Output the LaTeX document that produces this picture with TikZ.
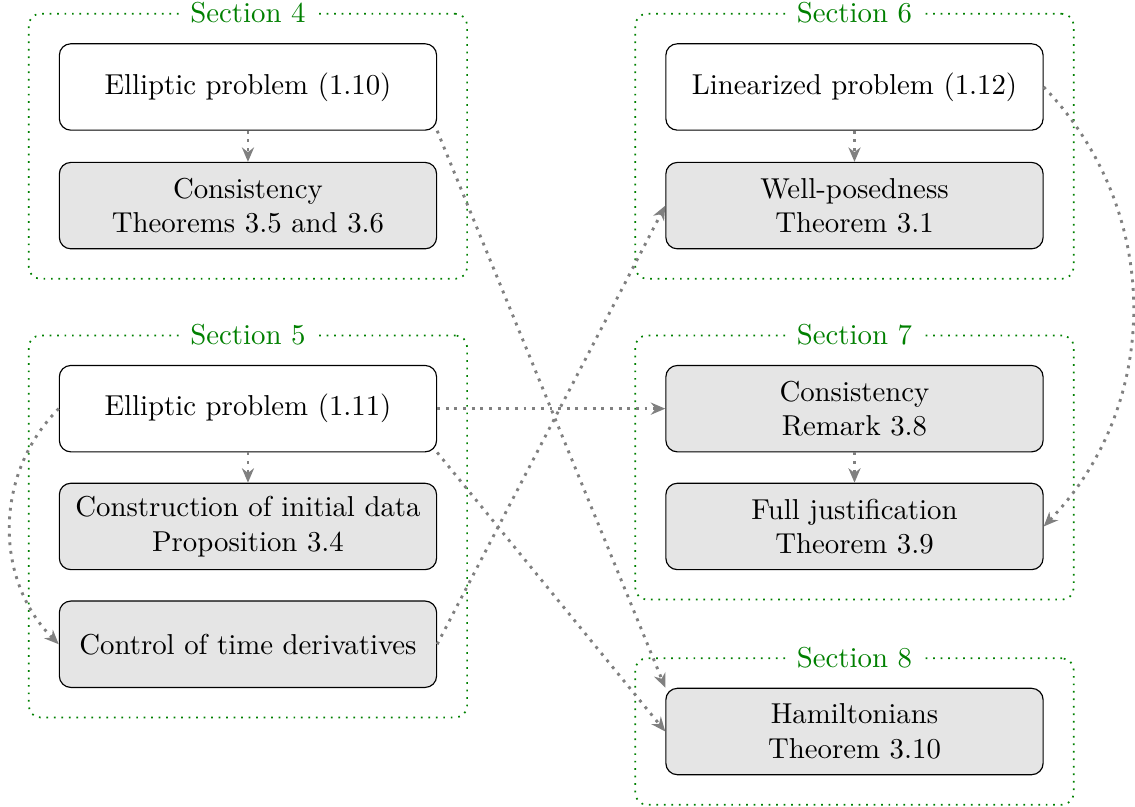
\documentclass[tikz,border=0pt]{standalone}
\usetikzlibrary{positioning, fit, arrows.meta}

\tikzset{
  probbox/.style={draw, rounded corners, minimum width=131pt, minimum height=30pt, align=center},
  resbox/.style={probbox, fill=gray!20},
  link/.style={-{Stealth[length=5pt, width=4.2pt]}, gray, line width=1pt, dotted},
  sectframe/.style={draw=green!50!black, semithick, dotted, rounded corners, inner xsep=10.4pt, inner ysep=10.2pt},
  seclabel/.style={fill=white, text=green!50!black},
}

\begin{document}
\begin{tikzpicture}
    \useasboundingbox (0,0) rectangle (394.1pt,-280.2pt);
    % Left column:
    \node[probbox] (ell4) at (86.1pt,-30.2pt) {Elliptic problem (1.10)};
    \node[resbox, below=10.8pt of ell4] (cons4) {Consistency\\Theorems 3.5 and 3.6};
    \node[probbox, below=40.1pt of cons4] (ell5) {Elliptic problem (1.11)};
    \node[resbox, below=10.5pt of ell5] (constr) {Construction of initial data\\Proposition 3.4};
    \node[resbox, below=10.5pt of constr] (ctrl) {Control of time derivatives};
    % Right column:
    \node[probbox, right=79.2pt of ell4] (lin) {Linearized problem (1.12)};
    \node[resbox, below=10.8pt of lin] (wellp) {Well-posedness\\Theorem 3.1};
    \node[resbox, right=79.2pt of ell5] (cons7) {Consistency\\Remark 3.8};
    \node[resbox, below=10.5pt of cons7] (full) {Full justification\\Theorem 3.9};
    \node[resbox, below=40.8pt of full] (hamil) {Hamiltonians\\Theorem 3.10};

    % Sections: dotted frames with their titles on the top edge
    \foreach \s/\a/\b in {4/ell4/cons4, 5/ell5/ctrl, 6/lin/wellp, 7/cons7/full, 8/hamil/hamil}{%
        \node[sectframe, fit=(\a)(\b)] (s\s) {};
        \node[seclabel] (t\s) at (s\s.north) {Section \s};
    }

    % Dependencies:
    \draw[link] (ell4) -- (cons4);
    \draw[link] (ell5) -- (constr);
    \draw[link] (lin) -- (wellp);
    \draw[link] (cons7) -- (full);
    \draw[link] (ell4.south east) -- (hamil.north west);
    \draw[link] (ell5.east) -- (cons7.west);
    \draw[link] (ell5.south east) -- (hamil.west);
    \draw[link] (ctrl.east) -- (wellp.west);
    \draw[link] (ell5.west) to[bend right=45] (ctrl.west);
    \draw[link] (lin.east) to[bend left=44] (full.east);
\end{tikzpicture}
\end{document}
